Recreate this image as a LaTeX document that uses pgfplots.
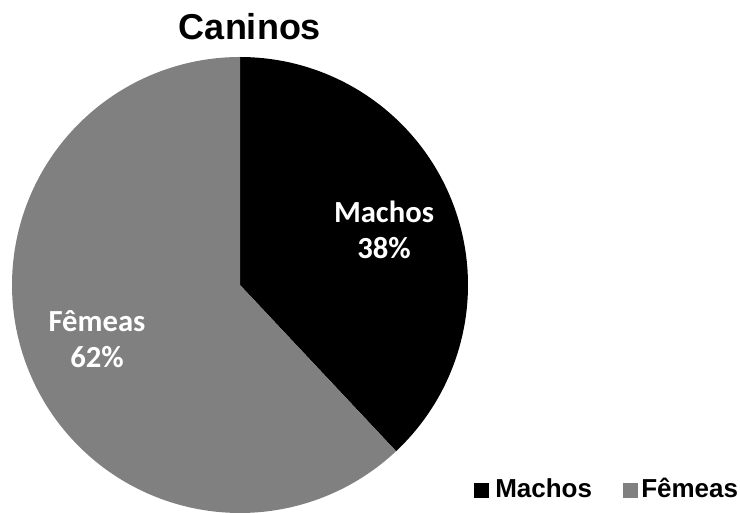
\documentclass[border=0pt]{standalone}
\usepackage{pgfplots}
\pgfplotsset{compat=1.18}
\usepackage{fontspec}
\setmainfont{Liberation Sans}
\newfontfamily\carlito{Carlito}
\definecolor{femgray}{RGB}{128,128,128}
\begin{document}
\begin{tikzpicture}
\pgfmathsetmacro\machos{38}
\pgfmathsetmacro\femeas{62}
\pgfmathsetmacro\aend{90-\machos*3.6}
\pgfmathsetmacro\bend{90+\femeas*3.6}
\begin{axis}[
  at={(0,0)}, anchor=south west,
  scale only axis, width=555pt, height=384.75pt,
  xmin=0, xmax=740, ymin=0, ymax=513,
  hide axis, clip=false,
]
\path (axis cs:0,0) rectangle (axis cs:740,513);
\addplot[fill=black, draw=none, domain=\aend:90, samples=120]
  ({240+228*cos(x)},{228+228*sin(x)}) -- (axis cs:240,228) -- cycle;
\addplot[fill=femgray, draw=none, domain=90:\bend, samples=180]
  ({240+228*cos(x)},{228+228*sin(x)}) -- (axis cs:240,228) -- cycle;
\node[font=\bfseries\fontsize{27pt}{30pt}\selectfont] at (axis cs:250,486) {Caninos};
\node[text=white, font=\carlito\bfseries\fontsize{23pt}{26pt}\selectfont, align=center] at (axis cs:384,283) {Machos\\[1pt]38\%};
\node[text=white, font=\carlito\bfseries\fontsize{23pt}{26pt}\selectfont, align=center] at (axis cs:97,174) {Fêmeas\\[1pt]62\%};
\fill[black] (axis cs:474,15) rectangle (axis cs:489,30);
\node[anchor=base west, inner sep=0pt, font=\bfseries\fontsize{19.5pt}{22pt}\selectfont] at (axis cs:495,15) {Machos};
\fill[femgray] (axis cs:623,15) rectangle (axis cs:638,30);
\node[anchor=base west, inner sep=0pt, font=\bfseries\fontsize{19.5pt}{22pt}\selectfont] at (axis cs:641,15) {Fêmeas};
\end{axis}
\end{tikzpicture}
\end{document}
